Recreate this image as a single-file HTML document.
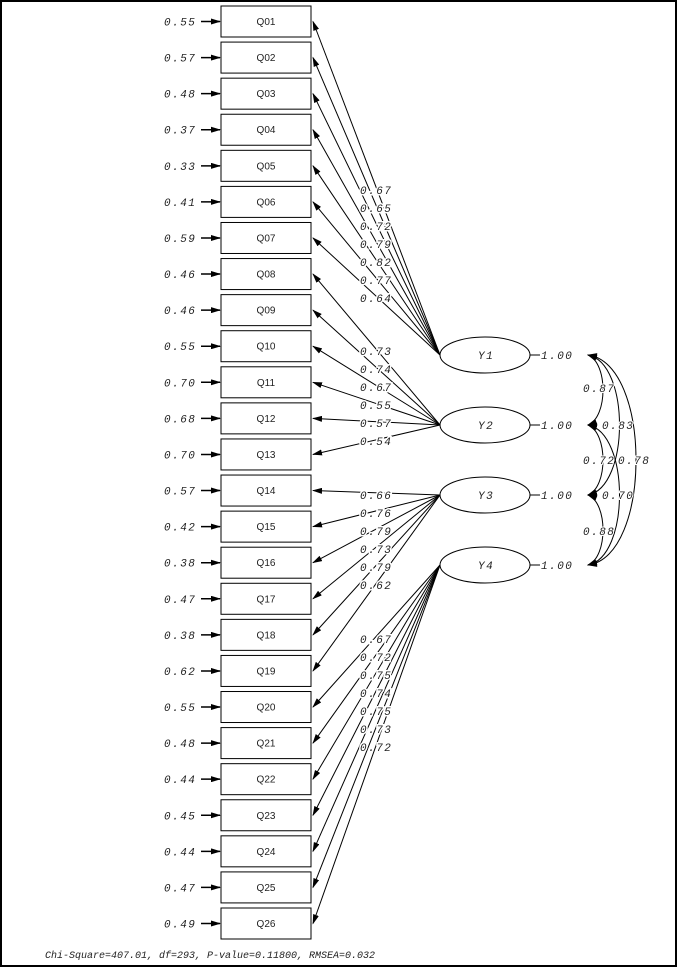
<!DOCTYPE html>
<html><head><style>
html,body{margin:0;padding:0;background:#fff}
svg{display:block}
text{font-family:"Liberation Mono",monospace;font-style:italic;font-size:11px;fill:#222;letter-spacing:1.5px}
.q{font-family:"Liberation Sans",sans-serif;font-style:normal;font-size:10px;letter-spacing:0}
</style></head><body>
<svg width="677" height="968" viewBox="0 0 677 968" xmlns="http://www.w3.org/2000/svg">
<defs>
<marker id="a" markerWidth="10" markerHeight="6" refX="9" refY="3" orient="auto-start-reverse" markerUnits="userSpaceOnUse">
<path d="M0,0 L10,3 L0,6 z" fill="#000"/></marker>
</defs>
<rect x="1" y="1" width="675" height="965" fill="none" stroke="#000" stroke-width="2"/>
<g id="g"></g>
<text x="45" y="958" style="font-size:10px;letter-spacing:0">Chi-Square=407.01, df=293, P-value=0.11800, RMSEA=0.032</text>
</svg>
<script>
var s=document.getElementById('g'),h="";
var err=["0.55","0.57","0.48","0.37","0.33","0.41","0.59","0.46","0.46","0.55","0.70","0.68","0.70","0.57","0.42","0.38","0.47","0.38","0.62","0.55","0.48","0.44","0.45","0.44","0.47","0.49"];
var ly=[355,425,495,565];
var lab=[["0.67","0.65","0.72","0.79","0.82","0.77","0.64"],["0.73","0.74","0.67","0.55","0.57","0.54"],["0.66","0.76","0.79","0.73","0.79","0.62"],["0.67","0.72","0.75","0.74","0.75","0.73","0.72"]];
var ls=[190,351,495,639],lx=[360,360,360,360];
var k=0;
for(var f=0;f<4;f++){for(var j=0;j<lab[f].length;j++){
 var y=6+k*36.08,cy=y+15.5;
 h+='<line x1="440" y1="'+ly[f]+'" x2="313" y2="'+cy+'" stroke="#000" stroke-width="1" marker-end="url(#a)"/>';
 k++;}}
for(var i=0;i<26;i++){var y=6+i*36.08,cy=y+15.5;
 h+='<rect x="221" y="'+y+'" width="90" height="31" fill="#fff" stroke="#000"/>';
 h+='<text class="q" x="266" y="'+(cy+3.5)+'" text-anchor="middle">Q'+(i<9?"0":"")+(i+1)+'</text>';
 h+='<line x1="201" y1="'+cy+'" x2="220" y2="'+cy+'" stroke="#000" stroke-width="1.5" marker-end="url(#a)"/>';
 h+='<text x="164" y="'+(cy+4)+'">'+err[i]+'</text>';}
for(var f=0;f<4;f++){for(var j=0;j<lab[f].length;j++){
 h+='<text x="'+lx[f]+'" y="'+(ls[f]+j*18+4)+'" style="stroke:#fff;stroke-width:3;paint-order:stroke">'+lab[f][j]+'</text>';}}
for(var f=0;f<4;f++){
 h+='<ellipse cx="485" cy="'+ly[f]+'" rx="45" ry="18" fill="#fff" stroke="#000"/>';
 h+='<text x="478" y="'+(ly[f]+4)+'">Y'+(f+1)+'</text>';
 h+='<line x1="530" y1="'+ly[f]+'" x2="540" y2="'+ly[f]+'" stroke="#000"/>';
 h+='<text x="541" y="'+(ly[f]+4)+'">1.00</text>';}
var arcs=[[0,1,608],[0,2,630],[0,3,652],[1,2,608],[1,3,630],[2,3,608]];
arcs.forEach(function(a){var y1=ly[a[0]],y2=ly[a[1]];
 h+='<path d="M588,'+y1+' C'+a[2]+','+(y1+8)+' '+a[2]+','+(y2-8)+' 588,'+y2+'" fill="none" stroke="#000" marker-end="url(#a)" marker-start="url(#a)"/>';});
var cl=[[583,392,"0.87"],[602,429,"0.83"],[583,464,"0.72"],[618,464,"0.78"],[602,499,"0.70"],[583,535,"0.88"]];
cl.forEach(function(c){h+='<text x="'+c[0]+'" y="'+c[1]+'" style="stroke:#fff;stroke-width:2;paint-order:stroke">'+c[2]+'</text>';});
s.innerHTML=h;
</script>
</body></html>
